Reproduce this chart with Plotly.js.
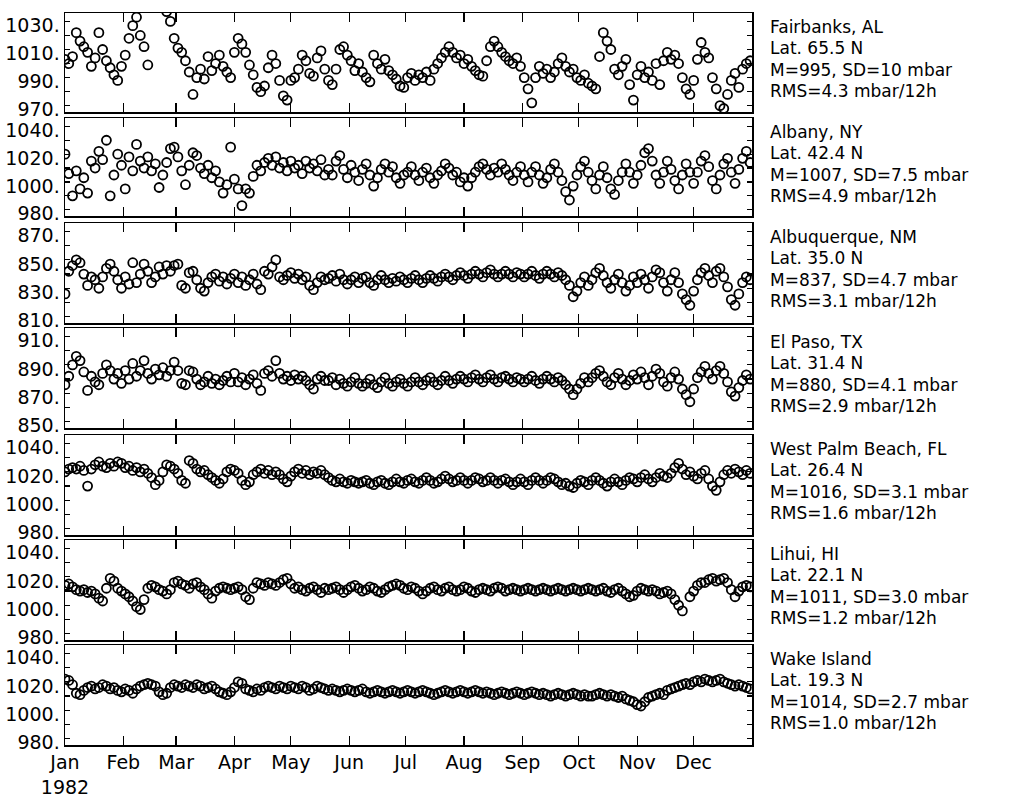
<!DOCTYPE html>
<html>
<head>
<meta charset="utf-8">
<script src="https://cdn.plot.ly/plotly-3.0.1.min.js"></script>
<style>
  html, body { margin: 0; padding: 0; background: #fff; }
  #chart { width: 1010px; height: 798px; }
</style>
</head>
<body>
<div id="chart"></div>
<script>
// ---- Data: surface pressure (mbar), sampled every 2 days from 1 Jan 1982 ----
const stepDays = 2;

const fairbanks = [
  1003,1000,1005,1022,1016,1012,1008,998,1004,1022,
  1010,1002,997,992,988,998,1006,1018,1027,1033,
  1020,1012,999,null,null,null,null,1037,1030,1018,
  1011,1008,1002,994,978,990,996,989,1005,995,
  1000,1006,998,994,990,1008,1018,1014,1008,999,
  992,983,980,984,997,1006,1000,988,977,974,
  988,990,996,1006,1002,993,991,1004,1009,996,
  988,985,996,1010,1012,1006,1002,995,1000,994,
  990,987,1006,1000,996,1003,995,992,989,984,
  983,990,993,988,992,990,994,988,996,1000,
  1004,1008,1012,1008,1004,1006,1000,1003,998,995,
  992,991,1002,1012,1016,1012,1008,1005,1002,1000,
  1004,998,990,982,972,990,998,993,996,990,
  994,1000,1004,998,994,996,990,988,992,986,
  984,982,1005,1022,1016,1010,996,992,998,1003,
  985,974,992,998,990,994,988,1000,985,1002,
  1008,1003,1006,1000,990,982,978,988,1003,1015,
  1008,1004,990,982,970,968,978,988,993,983,
  996,1000,1002
];
const albany = [
  1020,1006,990,1008,995,1003,992,1015,1010,1022,
  1016,1030,990,1005,1020,1012,995,1018,1008,1027,
  1015,1010,1018,1008,1013,996,1005,1014,1024,1025,
  1018,1008,998,1012,1021,1019,1010,1006,1012,1003,
  1008,1000,992,998,1025,1002,995,983,995,992,
  1004,1012,1008,1014,1017,1012,1018,1010,1014,1008,
  1015,1010,1012,1006,1015,1010,1013,1008,1016,1005,
  1009,1005,1015,1019,1009,1003,1012,1007,1001,1009,
  1013,1005,997,1003,1009,1013,1007,1011,1003,999,
  1005,1007,1011,1005,1001,1007,1010,1003,999,1005,
  1008,1013,1010,1005,1007,1000,1003,997,1003,1007,
  1011,1013,1009,1005,1010,1007,1013,1009,1005,1001,
  1007,1011,1005,1000,1007,1011,1005,999,1003,1009,
  1013,1007,1001,993,987,997,1005,1011,1015,1007,
  1001,995,1005,1011,1003,995,991,1001,1007,1013,
  1007,999,1005,1012,1021,1024,1015,1005,999,1007,
  1015,1009,1001,995,1005,1013,1007,999,1007,1015,
  1019,1011,1001,995,1005,1013,1017,1007,999,1009,
  1017,1022,1014
];
const albuquerque = [
  826,842,846,850,848,840,832,838,836,830,
  838,844,847,842,836,830,838,833,848,834,
  840,847,842,834,838,845,840,846,842,846,
  847,832,830,841,842,836,830,828,834,838,
  840,835,838,833,837,840,834,838,832,836,
  840,833,829,842,840,845,850,838,836,839,
  841,837,840,836,838,832,829,834,838,836,
  837,839,835,840,836,833,836,838,834,837,
  838,834,832,836,839,836,834,837,835,838,
  836,834,837,839,836,834,837,839,837,835,
  838,840,838,836,839,841,839,837,840,842,
  840,838,841,843,840,838,840,842,840,838,
  841,840,838,840,842,839,837,840,842,840,
  838,841,839,836,832,824,828,834,838,832,
  836,841,844,839,834,830,836,840,834,828,
  832,838,834,840,836,830,838,843,841,834,
  828,836,841,834,826,822,818,828,836,841,
  844,839,834,842,844,838,831,822,818,826,
  834,838,836
];
const elPaso = [
  876,882,890,896,893,885,872,882,878,876,
  884,890,886,880,884,877,886,880,891,882,
  886,893,884,880,887,883,888,882,886,892,
  886,877,876,886,885,880,876,878,882,877,
  880,876,879,882,878,884,878,881,876,880,
  883,877,872,884,886,882,893,884,880,882,
  879,883,880,882,879,876,873,880,882,879,
  879,881,876,880,877,875,878,881,877,875,
  877,880,876,874,878,881,877,875,878,880,
  877,875,878,881,878,876,879,881,878,876,
  879,882,879,877,880,882,880,878,881,883,
  880,878,881,883,880,878,881,882,880,878,
  881,880,878,880,882,879,877,880,882,880,
  878,881,879,876,873,869,873,877,881,878,
  881,884,886,882,878,876,881,884,880,876,
  879,883,880,885,881,876,882,887,884,878,
  875,881,885,880,873,869,864,873,881,885,
  889,884,880,886,889,884,878,871,868,874,
  879,883,880
];
const westPalmBeach = [
  1020,1022,1023,1022,1024,1021,1010,1022,1025,1027,
  1024,1023,1026,1024,1027,1026,1023,1024,1021,1023,
  1020,1022,1019,1016,1011,1014,1020,1025,1024,1022,
  1019,1014,1012,1028,1026,1022,1020,1021,1018,1016,
  1014,1012,1015,1020,1022,1021,1019,1014,1011,1013,
  1018,1020,1022,1019,1021,1018,1020,1018,1015,1013,
  1017,1020,1022,1019,1021,1018,1020,1019,1021,1018,
  1016,1014,1013,1015,1013,1012,1014,1013,1012,1013,
  1014,1012,1011,1013,1014,1012,1011,1013,1015,1013,
  1012,1014,1015,1013,1012,1014,1016,1014,1012,1013,
  1015,1017,1015,1013,1014,1016,1014,1012,1014,1016,
  1015,1013,1014,1016,1014,1012,1014,1015,1013,1011,
  1013,1015,1013,1011,1014,1016,1014,1012,1014,1016,
  1015,1013,1011,1012,1010,1009,1012,1014,1013,1011,
  1014,1016,1014,1012,1010,1013,1015,1013,1011,1014,
  1016,1015,1013,1016,1018,1015,1013,1016,1019,1017,
  1016,1019,1023,1026,1022,1018,1020,1017,1015,1019,
  1021,1015,1010,1007,1013,1018,1021,1019,1022,1020,
  1018,1021,1019
];
const lihue = [
  1014,1015,1013,1011,1010,1011,1009,1010,1008,1005,
  1003,1012,1019,1017,1012,1010,1008,1006,1003,999,
  997,1004,1012,1014,1013,1011,1010,1008,1011,1016,
  1017,1015,1014,1012,1015,1016,1013,1011,1008,1005,
  1010,1012,1013,1012,1011,1012,1013,1011,1006,1004,
  1012,1016,1015,1014,1016,1015,1014,1016,1018,1019,
  1015,1012,1013,1011,1010,1012,1013,1011,1009,1012,
  1011,1012,1013,1011,1009,1011,1013,1014,1012,1010,
  1011,1013,1012,1010,1009,1011,1013,1014,1015,1014,
  1012,1011,1013,1012,1010,1008,1010,1012,1013,1011,
  1010,1012,1013,1011,1010,1011,1013,1012,1010,1009,
  1011,1012,1011,1010,1012,1013,1012,1010,1011,1012,
  1011,1010,1011,1012,1011,1010,1011,1012,1011,1010,
  1011,1012,1011,1010,1011,1012,1011,1010,1011,1012,
  1011,1010,1011,1012,1010,1009,1011,1012,1010,1008,
  1006,1007,1010,1012,1011,1010,1011,1010,1008,1009,
  1010,1008,1004,1000,996,null,1006,1010,1014,1016,
  1016,1018,1019,1017,1018,1019,1016,1011,1006,1010,
  1013,1014,1013
];
const wakeIsland = [
  1022,1021,1018,1012,1011,1014,1016,1017,1015,1016,
  1018,1017,1015,1016,1014,1013,1015,1014,1012,1015,
  1017,1018,1019,1018,1017,1013,1011,1012,1016,1018,
  1017,1016,1018,1017,1016,1018,1017,1015,1016,1017,
  1015,1013,1012,1011,1013,1016,1020,1019,1015,1014,
  1013,1015,1014,1016,1017,1016,1015,1017,1016,1015,
  1017,1016,1015,1017,1016,1014,1015,1017,1016,1015,
  1014,1015,1014,1013,1014,1015,1014,1013,1014,1015,
  1013,1012,1013,1014,1013,1012,1013,1014,1013,1012,
  1013,1014,1013,1012,1013,1014,1013,1012,1011,1012,
  1013,1014,1013,1012,1013,1014,1013,1012,1013,1014,
  1013,1012,1013,1012,1011,1012,1013,1012,1011,1012,
  1013,1012,1011,1012,1013,1012,1011,1012,1011,1010,
  1011,1012,1011,1010,1011,1012,1011,1010,1011,1010,
  1010,1011,1012,1011,1010,1011,1010,1009,1010,1008,
  1007,1006,1004,1003,1006,1009,1010,1011,1012,1011,
  1014,1015,1016,1017,1018,1019,1018,1020,1021,1020,
  1022,1021,1020,1021,1022,1020,1019,1018,1017,1018,
  1017,1016,1015
];

const series = [fairbanks, albany, albuquerque, elPaso, westPalmBeach, lihue, wakeIsland];

// Station text
const stationNames = ["Fairbanks, AL", "Albany, NY", "Albuquerque, NM", "El Paso, TX", "West Palm Beach, FL", "Lihui, HI", "Wake Island"];
const latitudes = ["65.5", "42.4", "35.0", "31.4", "26.4", "22.1", "19.3"];
const means = ["995", "1007", "837", "880", "1016", "1011", "1014"];
const sds = ["10", "7.5", "4.7", "4.1", "3.1", "3.0", "2.7"];
const rmsValues = ["4.3", "4.9", "3.1", "2.9", "1.6", "1.2", "1.0"];

// Y-axis ticks (every 10 mbar, labelled every 20)
const yTickValues = [
  [970, 980, 990, 1000, 1010, 1020, 1030],
  [980, 990, 1000, 1010, 1020, 1030, 1040],
  [810, 820, 830, 840, 850, 860, 870],
  [850, 860, 870, 880, 890, 900, 910],
  [980, 990, 1000, 1010, 1020, 1030, 1040],
  [980, 990, 1000, 1010, 1020, 1030, 1040],
  [980, 990, 1000, 1010, 1020, 1030, 1040]
];
const yTickLabels = [
  ["970.", "", "990.", "", "1010.", "", "1030."],
  ["980.", "", "1000.", "", "1020.", "", "1040."],
  ["810.", "", "830.", "", "850.", "", "870."],
  ["850.", "", "870.", "", "890.", "", "910."],
  ["980.", "", "1000.", "", "1020.", "", "1040."],
  ["980.", "", "1000.", "", "1020.", "", "1040."],
  ["980.", "", "1000.", "", "1020.", "", "1040."]
];

// X-axis month ticks
const monthTicks = ["1982-01-01","1982-02-01","1982-03-01","1982-04-01","1982-05-01","1982-06-01",
                    "1982-07-01","1982-08-01","1982-09-01","1982-10-01","1982-11-01","1982-12-01"];
const monthLabels = ["Jan<br>1982","Feb","Mar","Apr","May","Jun","Jul","Aug","Sep","Oct","Nov","Dec"];

// ---- Layout geometry (pixels) ----
const W = 1010, H = 798;
const margin = {l: 65, r: 258, t: 13, b: 53};
const panelPx = [[13,112],[118,216],[223,323],[328,428],[435,535],[540,640],[645,745]];
const plotTop = margin.t, plotBottom = H - margin.b, plotH = plotBottom - plotTop;
const plotW = W - margin.l - margin.r;

const FONT = "DejaVu Sans, Liberation Sans, sans-serif";

function dateAt(i) {
  const t = Date.UTC(1982, 0, 1) + i * stepDays * 86400000;
  return new Date(t).toISOString().slice(0, 10);
}

const traces = [];
const layout = {
  width: W, height: H,
  margin: margin,
  paper_bgcolor: "#fff", plot_bgcolor: "#fff",
  showlegend: false,
  font: {family: FONT, size: 19, color: "#000"},
  annotations: []
};

series.forEach((vals, i) => {
  const n = i === 0 ? "" : String(i + 1);
  traces.push({
    type: "scatter", mode: "markers",
    x: vals.map((v, k) => dateAt(k)),
    y: vals,
    xaxis: "x" + n, yaxis: "y" + n,
    marker: {symbol: "circle-open", size: 9, color: "#000", line: {width: 1.8, color: "#000"}},
    hoverinfo: "skip"
  });
  const [pt, pb] = panelPx[i];
  const dom = [(plotBottom - pb) / plotH, (plotBottom - pt) / plotH];
  const low = yTickValues[i][0];
  layout["yaxis" + n] = {
    domain: dom, anchor: "x" + n,
    range: [low - 4.5, low + 66],
    tickmode: "array", tickvals: yTickValues[i], ticktext: yTickLabels[i],
    ticks: "inside", ticklen: 5, tickwidth: 1.2, tickcolor: "#000",
    showline: true, linecolor: "#000", linewidth: 1.5, mirror: "ticks",
    showgrid: false, zeroline: false,
    tickfont: {family: FONT, size: 19, color: "#000"},
    ticklabelshift: 4,
    fixedrange: true
  };
  layout["xaxis" + n] = {
    anchor: "y" + n, type: "date",
    range: ["1982-01-01", "1983-01-01"],
    tickmode: "array", tickvals: monthTicks,
    ticktext: i === series.length - 1 ? monthLabels : monthTicks.map(() => ""),
    showticklabels: i === series.length - 1,
    ticks: "inside", ticklen: 9, tickwidth: 1.2, tickcolor: "#000",
    showline: true, linecolor: "#000", linewidth: 1.5, mirror: "ticks",
    showgrid: false, zeroline: false,
    tickfont: {family: FONT, size: 19, color: "#000"},
    fixedrange: true
  };
  if (i > 0) layout["xaxis" + n].matches = "x";

  const lines = [
    stationNames[i],
    "Lat. " + latitudes[i] + " N",
    "M=" + means[i] + ", SD=" + sds[i] + " mbar",
    "RMS=" + rmsValues[i] + " mbar/12h"
  ];
  lines.forEach((t, j) => {
    const yc = pt + 14 + j * 21.3;   // line centre in pixels
    layout.annotations.push({
      xref: "paper", yref: "paper",
      x: (768 - margin.l) / plotW,
      y: (plotBottom - yc) / plotH,
      xanchor: "left", yanchor: "middle", align: "left",
      showarrow: false, text: t,
      font: {family: FONT, size: 17, color: "#000"}
    });
  });
});

Plotly.newPlot("chart", traces, layout, {staticPlot: true, displayModeBar: false});
</script>
</body>
</html>
